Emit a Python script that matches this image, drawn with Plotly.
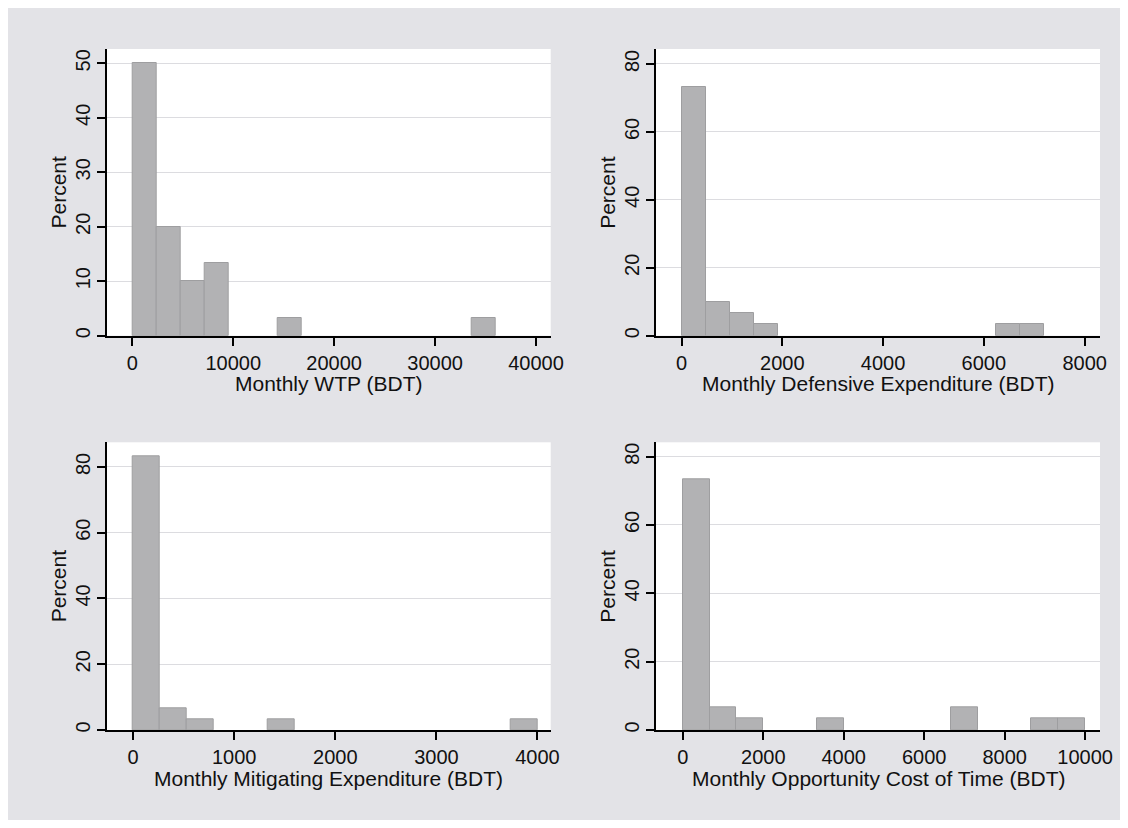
import plotly.graph_objects as go

# ---------------- data (15 equal-width bins per panel; percent per bin) ----------------
wtp_bin_width = 2400
wtp_percent = [50, 20, 10, 13.33, 0, 0, 3.33, 0, 0, 0, 0, 0, 0, 0, 3.33]

def_bin_width = 480
def_percent = [73.33, 10, 6.67, 3.33, 0, 0, 0, 0, 0, 0, 0, 0, 0, 3.33, 3.33]

mit_bin_width = 4000 / 15
mit_percent = [83.33, 6.67, 3.33, 0, 0, 3.33, 0, 0, 0, 0, 0, 0, 0, 0, 3.33]

opp_bin_width = 10000 / 15
opp_percent = [73.33, 6.67, 3.33, 0, 0, 3.33, 0, 0, 0, 0, 6.67, 0, 0, 3.33, 3.33]

titles = ["Monthly WTP (BDT)", "Monthly Defensive Expenditure (BDT)",
          "Monthly Mitigating Expenditure (BDT)", "Monthly Opportunity Cost of Time (BDT)"]
y_title = "Percent"
xticks_wtp = [0, 10000, 20000, 30000, 40000]
xticks_def = [0, 2000, 4000, 6000, 8000]
xticks_mit = [0, 1000, 2000, 3000, 4000]
xticks_opp = [0, 2000, 4000, 6000, 8000, 10000]
yticks_wtp = [0, 10, 20, 30, 40, 50]
yticks_other = [0, 20, 40, 60, 80]

# page has an 8px body margin; figure sized so the page fits the window exactly
OFF = 8
W, H = 1128 - 2 * OFF, 828 - 2 * OFF
FONT = "Liberation Sans, Arial, Helvetica, sans-serif"
TXT = "#111111"
BAR_FILL = "#b2b2b4"
BAR_LINE = "#9e9ea0"


def px_x(sx):
    return (sx - OFF) / W


def px_y(sy):
    return 1 - (sy - OFF) / H


panels = [
    dict(widths=wtp_bin_width, pct=wtp_percent, xt=xticks_wtp, yt=yticks_wtp,
         xr=[-2536, 41454], yr=[0, 52.63], px=(106.7, 550.7), py=(49, 335.7)),
    dict(widths=def_bin_width, pct=def_percent, xt=xticks_def, yt=yticks_other,
         xr=[-508, 8305], yr=[0, 84.4], px=(656, 1100), py=(49, 335.7)),
    dict(widths=mit_bin_width, pct=mit_percent, xt=xticks_mit, yt=yticks_other,
         xr=[-262, 4131], yr=[0, 87.5], px=(106.7, 550.7), py=(442.3, 730)),
    dict(widths=opp_bin_width, pct=opp_percent, xt=xticks_opp, yt=yticks_other,
         xr=[-666, 10370], yr=[0, 84.2], px=(656, 1100), py=(442.3, 730)),
]

fig = go.Figure()
annotations = []
layout = dict(
    template="none",
    width=W, height=H,
    margin=dict(l=0, r=0, t=0, b=0, autoexpand=False),
    paper_bgcolor="#e3e3e7",
    plot_bgcolor="white",
    showlegend=False,
    font=dict(family=FONT, size=20, color=TXT),
    bargap=0,
)

for i, p in enumerate(panels):
    n = "" if i == 0 else str(i + 1)
    xa, ya = "x" + n, "y" + n
    edges = [k * p["widths"] for k, v in enumerate(p["pct"]) if v > 0]
    vals = [v for v in p["pct"] if v > 0]
    fig.add_trace(go.Bar(
        x=edges, y=vals, width=[p["widths"]] * len(edges), offset=0,
        marker=dict(color=BAR_FILL, line=dict(color=BAR_LINE, width=1)),
        xaxis=xa, yaxis=ya, hoverinfo="skip"))
    x0, x1 = p["px"]
    ytop, ybot = p["py"]
    layout["xaxis" + n] = dict(
        domain=[px_x(x0), px_x(x1)], range=p["xr"], anchor=ya,
        automargin=False,
        tickvals=p["xt"], ticktext=[str(v) for v in p["xt"]],
        showline=True, linecolor="black", linewidth=2,
        ticks="outside", ticklen=8, tickwidth=2, tickcolor="black",
        showgrid=False, zeroline=False,
        tickfont=dict(size=20, family=FONT, color=TXT),
        ticklabelstandoff=0,
    )
    layout["yaxis" + n] = dict(
        domain=[px_y(ybot), px_y(ytop)], range=p["yr"], anchor=xa,
        automargin=False,
        tickvals=p["yt"], ticktext=[str(v) for v in p["yt"]],
        showline=True, linecolor="black", linewidth=2,
        ticks="outside", ticklen=8, tickwidth=2, tickcolor="black",
        showgrid=True, gridcolor="#dcdce0", gridwidth=1, zeroline=False,
        tickangle=-90,
        tickfont=dict(size=20, family=FONT, color=TXT),
        ticklabelstandoff=-1,
    )
    # x-axis title
    annotations.append(dict(
        text=titles[i], xref="paper", yref="paper",
        x=px_x((x0 + x1) / 2), y=px_y(ybot + 48), xanchor="center", yanchor="middle",
        showarrow=False, font=dict(size=21, family=FONT, color=TXT)))
    # y-axis title
    annotations.append(dict(
        text=y_title, xref="paper", yref="paper", textangle=-90,
        x=px_x(x0 - 48.5), y=px_y((ytop + ybot) / 2), xanchor="center", yanchor="middle",
        showarrow=False, font=dict(size=21, family=FONT, color=TXT)))

layout["annotations"] = annotations
fig.update_layout(**layout)
fig.write_html("out.html")
